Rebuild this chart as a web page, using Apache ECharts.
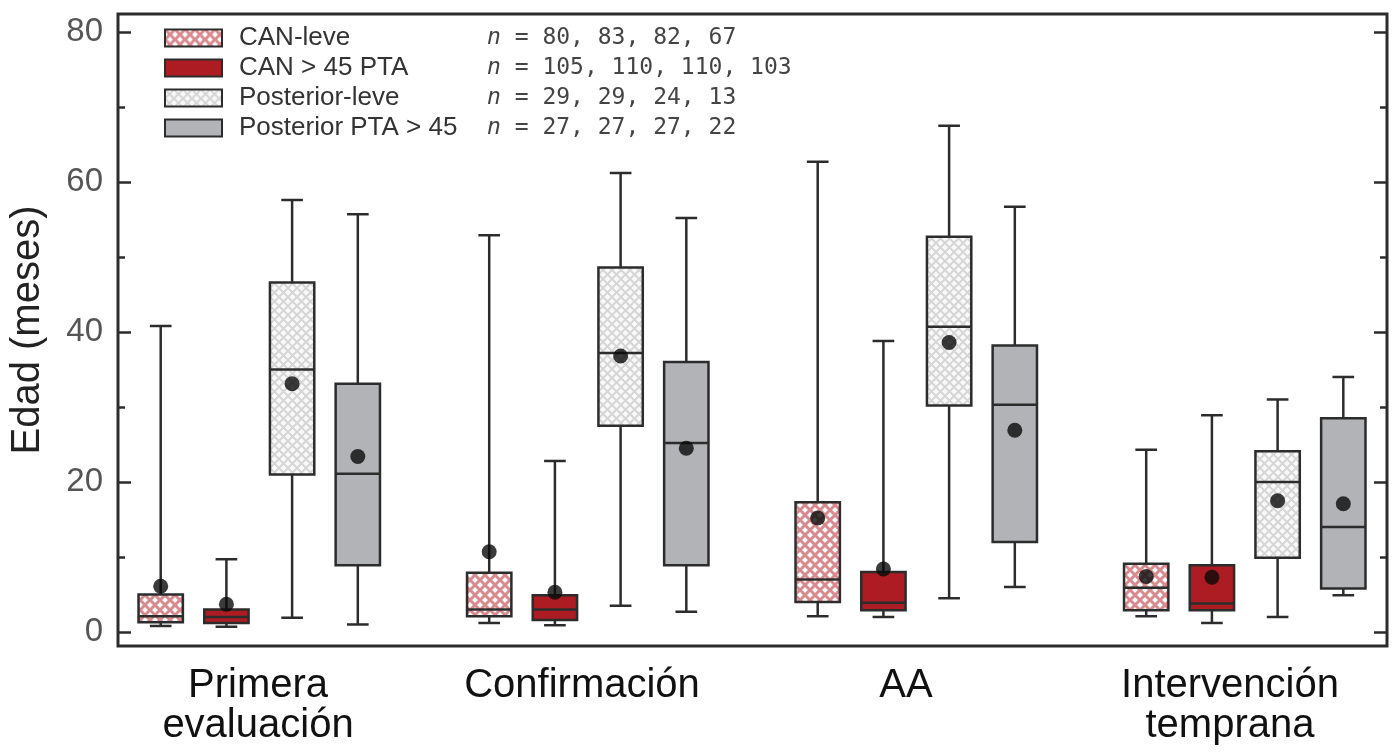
<!DOCTYPE html>
<html><head><meta charset="utf-8">
<script src="https://cdn.jsdelivr.net/npm/echarts@6/dist/echarts.min.js"></script>
<style>html,body{margin:0;padding:0;background:#fff}#c{width:1397px;height:754px}</style>
</head><body><div id="c"></div>
<script>
// ---------- data ----------
const categories = ['Primera\nevaluación', 'Confirmación', 'AA', 'Intervención\ntemprana'];
const groupNames = ['CAN-leve', 'CAN > 45 PTA', 'Posterior-leve', 'Posterior PTA > 45'];
const nCounts = [[80, 83, 82, 67], [105, 110, 110, 103], [29, 29, 24, 13], [27, 27, 27, 22]];
// [min, Q1, median, Q3, max] per category
const canLeveBox = [[0.8, 1.3, 2.1, 5.0, 40.8], [1.2, 2.1, 3.0, 7.9, 52.9], [2.1, 4.0, 7.0, 17.3, 62.7], [2.1, 2.9, 5.9, 9.1, 24.3]];
const canPtaBox = [[0.7, 1.2, 2.0, 3.0, 9.7], [0.9, 1.6, 3.0, 4.9, 22.8], [2.0, 2.9, 3.9, 8.0, 38.8], [1.2, 2.9, 3.8, 8.9, 28.9]];
const postLeveBox = [[1.9, 21.0, 35.0, 46.6, 57.6], [3.5, 27.5, 37.2, 48.6, 61.2], [4.5, 30.2, 40.7, 52.7, 67.5], [2.0, 9.9, 20.0, 24.1, 31.0]];
const postPtaBox = [[1.0, 8.9, 21.1, 33.1, 55.7], [2.7, 8.9, 25.2, 36.0, 55.2], [6.0, 12.0, 30.3, 38.2, 56.7], [4.9, 5.8, 14.0, 28.5, 34.0]];
const canLeveMean = [6.1, 10.7, 15.2, 7.4];
const canPtaMean = [3.7, 5.3, 8.4, 7.3];
const postLeveMean = [33.1, 36.8, 38.6, 17.5];
const postPtaMean = [23.4, 24.5, 26.9, 17.1];
const yTicks = [0, 20, 40, 60, 80];
const yMinorTicks = [10, 30, 50, 70];

const boxData = [canLeveBox, canPtaBox, postLeveBox, postPtaBox];
const meanData = [canLeveMean, canPtaMean, postLeveMean, postPtaMean];

// ---------- styles ----------
function makePattern(bg, line, size, lw) {
  const c = document.createElement('canvas');
  c.width = size; c.height = size;
  const ctx = c.getContext('2d');
  ctx.fillStyle = bg; ctx.fillRect(0, 0, size, size);
  ctx.strokeStyle = line; ctx.lineWidth = lw;
  ctx.beginPath();
  ctx.moveTo(-1, -1); ctx.lineTo(size + 1, size + 1);
  ctx.moveTo(size + 1, -1); ctx.lineTo(-1, size + 1);
  ctx.stroke();
  return { image: c, repeat: 'repeat' };
}
const fills = [
  makePattern('#ffffff', '#d98a8e', 10, 3),
  '#ad1c22',
  makePattern('#f9f9f9', '#d6d6d6', 9, 2),
  '#b1b3b6'
];
const ink = '#2c2c2c';
const slotsPerGroup = groupNames.length + 1;

function renderBox(params, api) {
  const xv = api.value(0);
  const pMin = api.coord([xv, api.value(1)]);
  const pQ1 = api.coord([xv, api.value(2)]);
  const pMed = api.coord([xv, api.value(3)]);
  const pQ3 = api.coord([xv, api.value(4)]);
  const pMax = api.coord([xv, api.value(5)]);
  const band = api.size([1, 0])[0];
  const bw = band * 0.675, cw = band * 0.33;
  const x = pMed[0];
  const ls = { stroke: ink, lineWidth: 2.5 };
  return {
    type: 'group',
    children: [
      { type: 'line', shape: { x1: x, y1: pMax[1], x2: x, y2: pQ3[1] }, style: ls },
      { type: 'line', shape: { x1: x, y1: pQ1[1], x2: x, y2: pMin[1] }, style: ls },
      { type: 'line', shape: { x1: x - cw / 2, y1: pMax[1], x2: x + cw / 2, y2: pMax[1] }, style: ls },
      { type: 'line', shape: { x1: x - cw / 2, y1: pMin[1], x2: x + cw / 2, y2: pMin[1] }, style: ls },
      { type: 'rect', shape: { x: x - bw / 2, y: pQ3[1], width: bw, height: pQ1[1] - pQ3[1] },
        style: { fill: fills[params.seriesIndex], stroke: ink, lineWidth: 2.5 } },
      { type: 'line', shape: { x1: x - bw / 2, y1: pMed[1], x2: x + bw / 2, y2: pMed[1] }, style: ls }
    ]
  };
}

const series = groupNames.map((name, s) => ({
  type: 'custom', name, xAxisIndex: 0, yAxisIndex: 0, z: 2,
  itemStyle: { color: fills[s], borderColor: ink, borderWidth: 2 },
  renderItem: renderBox,
  encode: { x: 0, y: [1, 2, 3, 4, 5] },
  data: boxData[s].map((v, g) => [g * slotsPerGroup + s].concat(v))
}));
meanData.forEach((arr, s) => {
  series.push({
    type: 'scatter', xAxisIndex: 0, yAxisIndex: 0, z: 5, silent: true,
    symbol: 'circle', symbolSize: 15, itemStyle: { color: '#0a0a0a' },
    data: arr.map((m, g) => [g * slotsPerGroup + s, m])
  });
});

const yMin = -1.87, yMax = 82.4;
function tickAxis(position, values, len, labels) {
  return {
    type: 'value', gridIndex: 0, position, min: yMin, max: yMax,
    axisLine: { show: false, onZero: false }, splitLine: { show: false },
    axisTick: { show: true, inside: true, length: len, customValues: values, lineStyle: { color: ink, width: 2.5 } },
    axisLabel: labels ? { customValues: values, fontSize: 33, color: '#555', margin: 15, fontFamily: 'Liberation Sans' } : { show: false }
  };
}
const yLeft = tickAxis('left', yTicks, 13, true);
yLeft.name = 'Edad (meses)';
yLeft.nameLocation = 'middle';
yLeft.nameGap = 70;
yLeft.nameTextStyle = { fontSize: 40, color: '#222', fontFamily: 'Liberation Sans' };

const option = {
  animation: false,
  backgroundColor: '#fff',
  grid: [
    { left: 118, right: 10, top: 14, bottom: 108, show: true, borderColor: ink, borderWidth: 3, backgroundColor: 'transparent' },
    { left: 96, right: 5, top: 14, bottom: 108, show: false }
  ],
  xAxis: [
    { type: 'value', gridIndex: 0, min: -0.65, max: 18.665, show: false, axisLine: { onZero: false } },
    { type: 'category', gridIndex: 1, data: categories, axisLine: { show: false, onZero: false }, axisTick: { show: false },
      axisLabel: { interval: 0, fontSize: 40, lineHeight: 40, color: '#111', margin: 20, fontFamily: 'Liberation Sans' } }
  ],
  yAxis: [
    yLeft,
    tickAxis('left', yMinorTicks, 7, false),
    tickAxis('right', yTicks, 13, false),
    tickAxis('right', yMinorTicks, 7, false),
    { type: 'value', gridIndex: 1, show: false, axisLine: { onZero: false } }
  ],
  legend: {
    orient: 'vertical', left: 159, top: 18, itemWidth: 57, itemHeight: 17, itemGap: 0,
    icon: 'rect', selectedMode: false,
    data: groupNames.map((n, i) => ({ name: n, itemStyle: { color: fills[i], borderColor: ink, borderWidth: 2 } })),
    formatter: name => {
      const i = groupNames.indexOf(name);
      return '{a|' + name + '}{n|n}{b| = ' + nCounts[i].join(', ') + '}';
    },
    textStyle: {
      lineHeight: 30,
      rich: {
        a: { fontFamily: 'Liberation Sans', fontSize: 26, color: '#333', width: 248, padding: [0, 0, 0, 12], lineHeight: 30 },
        n: { fontFamily: 'DejaVu Sans Mono', fontStyle: 'italic', fontSize: 23, color: '#444', lineHeight: 30 },
        b: { fontFamily: 'DejaVu Sans Mono', fontSize: 23, color: '#444', lineHeight: 30 }
      }
    }
  },
  series
};
const chart = echarts.init(document.getElementById('c'), null, { renderer: 'canvas' });
chart.setOption(option);
</script>
</body></html>
